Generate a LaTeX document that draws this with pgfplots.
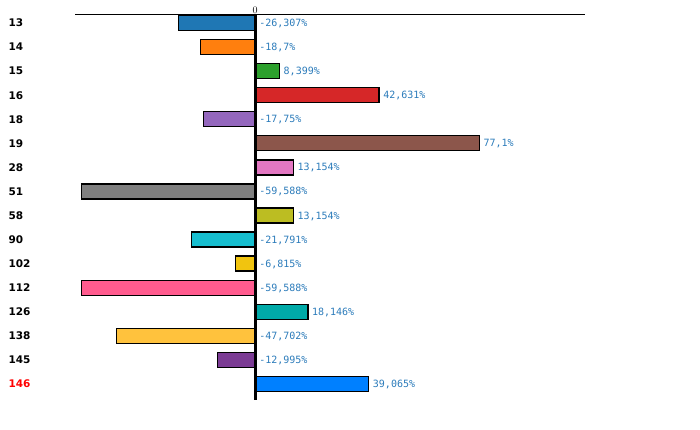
\documentclass[border=0pt]{standalone}
\usepackage{pgfplots}
\pgfplotsset{compat=1.18}
\usepackage{fontspec}
\setmainfont{DejaVu Sans}
\newfontfamily\monofont{DejaVu Sans Mono}
\definecolor{valblue}{HTML}{2B7BBA}
\definecolor{c13}{HTML}{1F77B4}
\definecolor{c14}{HTML}{FF7F0E}
\definecolor{c15}{HTML}{2CA02C}
\definecolor{c16}{HTML}{D62728}
\definecolor{c18}{HTML}{9467BD}
\definecolor{c19}{HTML}{8C564B}
\definecolor{c28}{HTML}{E377C2}
\definecolor{c51}{HTML}{7F7F7F}
\definecolor{c58}{HTML}{BCBD22}
\definecolor{c90}{HTML}{17BECF}
\definecolor{c102}{HTML}{F1C40F}
\definecolor{c112}{HTML}{FF5B8E}
\definecolor{c126}{HTML}{00AAA8}
\definecolor{c138}{HTML}{FFC23D}
\definecolor{c145}{HTML}{7B3B94}
\definecolor{c146}{HTML}{0080FF}
\pgfplotsset{mybar/.style={xbar, bar shift=0pt, bar width=15pt, draw=black, line width=1.3pt, fill=#1}}
\begin{document}
\begin{tikzpicture}[x=1pt,y=1pt]
\path[use as bounding box] (0,0) rectangle (700,429);
\begin{axis}[at={(75pt,29pt)}, anchor=south west, scale only axis,
  width=510pt, height=385pt,
  xmin=-61.9, xmax=113.4, ymin=-0.667, ymax=15.333,
  axis x line*=top, axis y line*=left,
  y axis line style={draw=none},
  x axis line style={line width=1pt},
  xtick={0}, xtick style={draw=none},
  xticklabel style={font=\monofont\fontsize{10}{10}\selectfont, inner sep=1pt},
  ytick={0,...,15}, ytick style={draw=none},
  yticklabels={\textcolor{red}{146},145,138,126,112,102,90,58,51,28,19,18,16,15,14,13},
  yticklabel style={anchor=west, xshift=-70pt, font=\bfseries\fontsize{10.5}{10.5}\selectfont},
  clip=false]
\addplot[mybar=c13] coordinates {(-26.307,15)};
\addplot[mybar=c14] coordinates {(-18.7,14)};
\addplot[mybar=c15] coordinates {(8.399,13)};
\addplot[mybar=c16] coordinates {(42.631,12)};
\addplot[mybar=c18] coordinates {(-17.75,11)};
\addplot[mybar=c19] coordinates {(77.1,10)};
\addplot[mybar=c28] coordinates {(13.154,9)};
\addplot[mybar=c51] coordinates {(-59.588,8)};
\addplot[mybar=c58] coordinates {(13.154,7)};
\addplot[mybar=c90] coordinates {(-21.791,6)};
\addplot[mybar=c102] coordinates {(-6.815,5)};
\addplot[mybar=c112] coordinates {(-59.588,4)};
\addplot[mybar=c126] coordinates {(18.146,3)};
\addplot[mybar=c138] coordinates {(-47.702,2)};
\addplot[mybar=c145] coordinates {(-12.995,1)};
\addplot[mybar=c146] coordinates {(39.065,0)};
\addplot[black, line width=3pt, mark=none] coordinates {(0,15.333) (0,-0.667)};
\addplot[only marks, mark=none, nodes near coords, point meta=explicit symbolic,
  nodes near coords style={anchor=west, inner sep=0pt, xshift=4pt, yshift=-0.5pt, text=valblue, font=\monofont\fontsize{10}{10}\selectfont}]
  coordinates {
  (0,15) [-26,307\%]
  (0,14) [-18,7\%]
  (8.399,13) [8,399\%]
  (42.631,12) [42,631\%]
  (0,11) [-17,75\%]
  (77.1,10) [77,1\%]
  (13.154,9) [13,154\%]
  (0,8) [-59,588\%]
  (13.154,7) [13,154\%]
  (0,6) [-21,791\%]
  (0,5) [-6,815\%]
  (0,4) [-59,588\%]
  (18.146,3) [18,146\%]
  (0,2) [-47,702\%]
  (0,1) [-12,995\%]
  (39.065,0) [39,065\%]
  };
\end{axis}
\end{tikzpicture}
\end{document}
